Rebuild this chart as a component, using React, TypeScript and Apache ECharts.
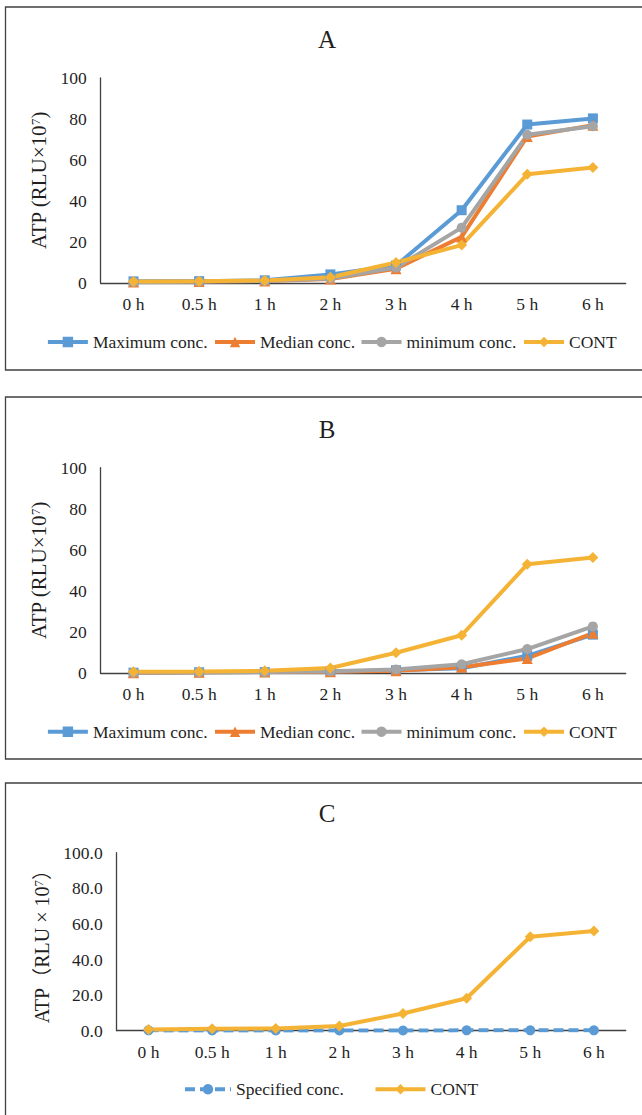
import React, { useEffect, useRef } from "react";
import * as echarts from "echarts";

// ---------- data ----------
const categories = ["0 h", "0.5 h", "1 h", "2 h", "3 h", "4 h", "5 h", "6 h"];

const maxA = [0.8, 0.9, 1.3, 4.2, 8.5, 35.5, 77.3, 80.3];
const medA = [0.5, 0.7, 1.0, 2.0, 7.0, 22.5, 71.5, 77.0];
const minA = [0.5, 0.7, 1.0, 2.2, 7.5, 27.0, 72.3, 76.5];
const contA = [0.7, 0.9, 1.2, 2.8, 10.0, 18.5, 53.0, 56.3];

const maxB = [0.3, 0.5, 0.6, 0.8, 1.5, 2.5, 8.5, 18.8];
const medB = [0.3, 0.5, 0.6, 0.8, 1.2, 2.9, 7.2, 19.5];
const minB = [0.3, 0.5, 0.6, 1.0, 1.9, 4.4, 11.8, 22.8];
const contB = [0.7, 0.9, 1.2, 2.6, 10.0, 18.5, 53.0, 56.3];

const specC = [0.2, 0.1, 0.1, 0.1, 0.1, 0.2, 0.2, 0.2];
const contC = [0.7, 1.1, 1.3, 2.6, 9.7, 18.2, 52.8, 56.0];

const yTicksMin = 0;
const yTicksMax = 100;
const yTicksStep = 20;

const panelTitles = ["A", "B", "C"];
const seriesNamesAB = ["Maximum conc.", "Median conc.", "minimum conc.", "CONT"];
const seriesNamesC = ["Specified conc.", "CONT"];

// ---------- styles ----------
const FONT = "'Liberation Serif', 'Times New Roman', serif";
const FONT_C = "'Liberation Serif', 'Noto Sans CJK SC', serif";
const TEXT = "#1f1f1f";
const AXIS = "#404040";
const BLUE = "#5B9BD5";
const ORANGE = "#ED7D31";
const GRAY = "#A5A5A5";
const GOLD = "#F5B335";
const LINE_W = 4;

const layout = [
  { left: 100.7, width: 525, top: 78, height: 205, titleY: 39, legendY: 342, boxTop: 7, boxBottom: 370, nameGap: 45 },
  { left: 100.7, width: 525, top: 467.7, height: 205.6, titleY: 429, legendY: 731.7, boxTop: 397, boxBottom: 759, nameGap: 45 },
  { left: 116.7, width: 509, top: 852.7, height: 178, titleY: 813.3, legendY: 1089.3, boxTop: 783, boxBottom: 1200, nameGap: 61 },
];

const legendAB = [
  { x: 45.9, w: 40 },
  { x: 213, w: 40 },
  { x: 359.5, w: 40 },
  { x: 522, w: 40 },
];
const legendC = [
  { x: 183, w: 46 },
  { x: 373.5, w: 50 },
];

function lineSeries(name: string, data: number[], idx: number, color: string, symbol: string, dashed = false) {
  return {
    type: "line",
    name,
    data,
    xAxisIndex: idx,
    yAxisIndex: idx,
    symbol,
    symbolSize: symbol === "diamond" ? 11 : symbol === "triangle" ? 11 : 10,
    itemStyle: { color },
    lineStyle: { color, width: LINE_W, type: dashed ? [10, 5] : "solid" },
    emphasis: { disabled: true },
  };
}

function legendItem(name: string, x: number, w: number, cy: number) {
  return {
    data: [name],
    left: x,
    top: cy - 9,
    itemWidth: w,
    itemHeight: 13,
    padding: 0,
    selectedMode: false,
    lineStyle: { width: LINE_W },
    textStyle: { fontSize: 17.5, fontFamily: FONT, color: TEXT },
  };
}

export default function App() {
  const ref = useRef<HTMLDivElement>(null);

  useEffect(() => {
    if (!ref.current) return;
    const chart = echarts.init(ref.current, null, { renderer: "svg" });

    const grids = layout.map((l) => ({ left: l.left, width: l.width, top: l.top, height: l.height, containLabel: false }));

    const xAxes = layout.map((l, i) => ({
      type: "category",
      gridIndex: i,
      data: categories,
      axisTick: { show: false },
      axisLine: { lineStyle: { color: AXIS, width: 1.3 } },
      axisLabel: { fontSize: 17.5, fontFamily: FONT, color: TEXT, margin: 12 },
    }));

    const yAxes = layout.map((l, i) => ({
      type: "value",
      gridIndex: i,
      min: yTicksMin,
      max: yTicksMax,
      interval: yTicksStep,
      splitLine: { show: false },
      axisTick: { show: false },
      axisLine: { show: true, lineStyle: { color: AXIS, width: 1.3 } },
      axisLabel: {
        fontSize: 17.5,
        fontFamily: FONT,
        color: TEXT,
        margin: 14,
        formatter: i === 2 ? (v: number) => v.toFixed(1) : (v: number) => String(v),
      },
      name: i === 2 ? "ATP（RLU × 10{s|7}）" : "ATP (RLU×10{s|7})",
      nameLocation: "middle",
      nameGap: l.nameGap,
      nameTextStyle: {
        fontSize: i === 2 ? 20 : 21,
        fontFamily: i === 2 ? FONT_C : FONT,
        color: TEXT,
        rich: { s: { fontSize: 13, fontFamily: FONT, color: TEXT, verticalAlign: "top" } },
      },
    }));

    const series: any[] = [
      lineSeries(seriesNamesAB[0], maxA, 0, BLUE, "rect"),
      lineSeries(seriesNamesAB[1], medA, 0, ORANGE, "triangle"),
      lineSeries(seriesNamesAB[2], minA, 0, GRAY, "circle"),
      lineSeries(seriesNamesAB[3], contA, 0, GOLD, "diamond"),
      lineSeries(seriesNamesAB[0], maxB, 1, BLUE, "rect"),
      lineSeries(seriesNamesAB[1], medB, 1, ORANGE, "triangle"),
      lineSeries(seriesNamesAB[2], minB, 1, GRAY, "circle"),
      lineSeries(seriesNamesAB[3], contB, 1, GOLD, "diamond"),
      lineSeries(seriesNamesC[0], specC, 2, BLUE, "circle", true),
      lineSeries(seriesNamesC[1], contC, 2, GOLD, "diamond"),
    ];

    const legends: any[] = [];
    [0, 1].forEach((p) => {
      seriesNamesAB.forEach((n, k) => {
        legends.push(legendItem(n, legendAB[k].x, legendAB[k].w, layout[p].legendY));
      });
    });
    seriesNamesC.forEach((n, k) => {
      legends.push(legendItem(n, legendC[k].x, legendC[k].w, layout[2].legendY));
    });

    const graphics: any[] = [];
    layout.forEach((l, i) => {
      graphics.push({
        type: "rect",
        shape: { x: 5.5, y: l.boxTop, width: 700, height: l.boxBottom - l.boxTop },
        style: { fill: "none", stroke: AXIS, lineWidth: 1.3 },
        silent: true,
      });
      graphics.push({
        type: "text",
        x: 327,
        y: l.titleY,
        style: {
          text: panelTitles[i],
          font: `25px ${FONT}`,
          fill: TEXT,
          align: "center",
          verticalAlign: "middle",
          textAlign: "center",
          textVerticalAlign: "middle",
        },
        silent: true,
      });
    });

    chart.setOption({
      animation: false,
      backgroundColor: "#ffffff",
      grid: grids,
      xAxis: xAxes,
      yAxis: yAxes,
      legend: legends,
      series,
      graphic: graphics,
    });

    return () => chart.dispose();
  }, []);

  return (
    <div
      ref={ref}
      style={{ position: "absolute", left: 0, top: 0, width: 642, height: 1115, background: "#fff" }}
    />
  );
}
